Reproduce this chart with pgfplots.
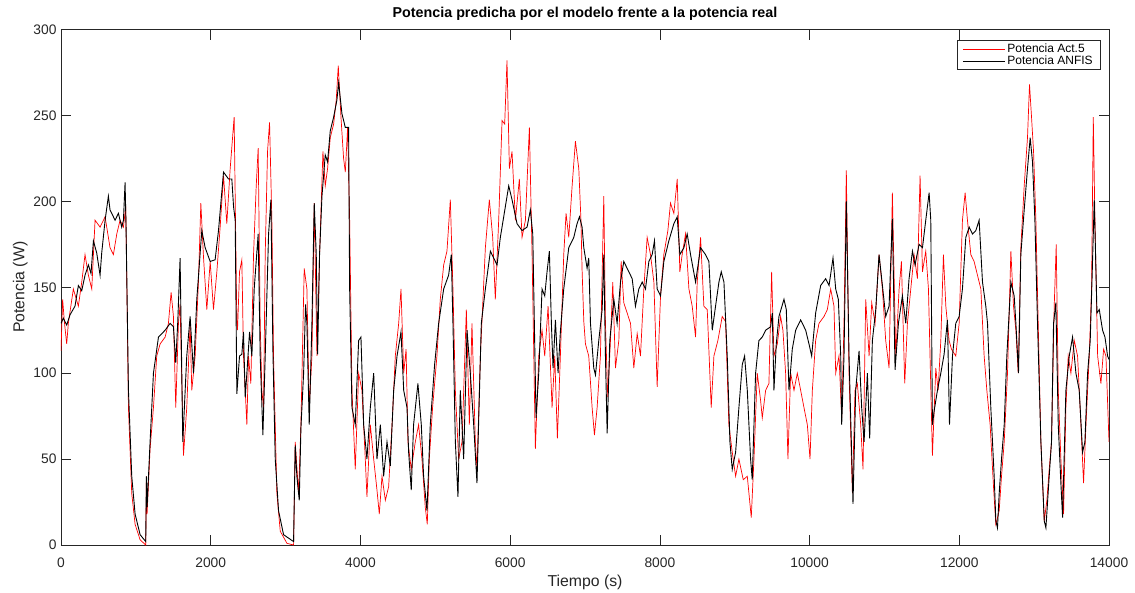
\documentclass[border=0pt]{standalone}
\usepackage{pgfplots}
\pgfplotsset{compat=1.18}
\usepackage{fontspec}
\setmainfont{Liberation Sans}
\definecolor{axgray}{RGB}{38,38,38}
\begin{document}
\begin{tikzpicture}
\begin{axis}[name=ax, scale only axis, width=1048pt, height=515.5pt,
  xmin=0, xmax=14000, ymin=0, ymax=300,
  xtick={0,2000,...,14000}, ytick={0,50,...,300},
  tick align=inside, major tick length=10pt,
  scaled x ticks=false,
  /pgf/number format/.cd, set thousands separator={}, assume math mode=true, /pgfplots/.cd,
  axis line style={axgray, line width=0.6pt},
  every tick/.style={axgray, line width=0.6pt},
  tick label style={font=\fontsize{13.8}{16}\selectfont, text=axgray},
  xticklabel style={yshift=-9pt},
  yticklabel style={xshift=-1pt},
  title={\bfseries Potencia predicha por el modelo frente a la potencia real},
  title style={font=\fontsize{14.3}{16}\selectfont, at={(0.5,1)}, anchor=base, yshift=5.5pt},
  xlabel={Tiempo (s)}, ylabel={Potencia (W)},
  label style={font=\fontsize{15.8}{18}\selectfont, text=axgray},
  xlabel style={yshift=-1pt},
  ylabel style={yshift=-1pt},
  legend style={at={(1,1)}, anchor=north east, xshift=-9pt, yshift=-11pt,
    font=\fontsize{12}{14}\selectfont, draw=axgray, line width=0.5pt,
    row sep=-2.5pt, inner xsep=5pt, inner ysep=1.5pt},
  legend cell align=left,
  legend image code/.code={\draw[#1] (-2pt,0pt) -- (40pt,0pt);},
]
\addplot[red, line width=0.7pt] coordinates {
(0,113)(22,143)(45,130)(76,117)(98,129)(165,149)(232,139)(277,153)(321,169)(366,157)(411,149)(455,189)(522,185)(589,191)(655,173)(700,169)(745,181)(789,189)(834,185)(865,197)(880,150)(901,80)(945,30)(990,12)(1057,3)(1132,0)(1141,40)(1150,18)(1190,56)(1235,80)(1279,110)(1324,117)(1391,121)(1435,129)(1471,147)(1502,133)(1533,80)(1569,129)(1591,140)(1636,52)(1680,80)(1725,129)(1747,90)(1792,110)(1836,153)(1868,199)(1903,168)(1948,137)(1993,165)(2037,137)(2082,159)(2126,185)(2171,215)(2215,187)(2260,219)(2313,249)
(2349,129)(2358,125)(2385,159)(2416,166)(2438,110)(2461,90)(2483,70)(2505,110)(2536,94)(2572,169)(2608,209)(2634,231)(2661,129)(2683,90)(2706,80)(2728,169)(2759,229)(2786,246)(2817,189)(2839,110)(2884,30)(2929,8)(3018,1)(3107,0)(3129,60)(3174,30)(3205,70)(3249,161)(3285,149)(3316,80)(3352,110)(3383,199)(3419,110)(3454,169)(3499,229)(3530,209)(3561,219)(3597,237)(3642,245)(3677,259)(3704,279)(3740,249)(3775,225)(3798,217)(3829,243)(3856,189)(3887,90)(3931,44)(3976,100)(4020,90)(4065,50)(4087,28)(4132,70)(4177,50)(4221,32)(4252,18)(4288,40)(4333,26)(4377,34)(4422,70)(4466,110)(4511,129)(4542,149)(4578,100)(4610,114)
(4635,60)(4679,44)(4733,60)(4777,70)(4822,50)(4866,22)(4893,12)(4920,50)(4964,80)(5022,110)(5067,143)(5112,163)(5156,171)(5201,201)(5236,149)(5268,90)(5312,50)(5357,60)(5415,137)(5455,70)(5490,129)(5535,60)(5557,44)(5602,110)(5669,173)(5722,201)(5767,179)(5802,143)(5847,189)(5892,247)(5927,245)(5958,282)(5990,219)(6025,229)(6070,189)(6123,213)(6159,179)(6204,189)(6257,243)(6293,169)(6337,56)(6382,110)(6426,125)(6462,110)(6507,139)(6560,80)(6596,110)(6631,62)(6671,110)(6716,169)(6747,193)(6783,179)(6828,209)(6872,235)(6917,219)(6945,190)(6961,160)(6984,130)(7006,117)
(7050,110)(7095,80)(7126,64)(7162,80)(7206,110)(7251,203)(7273,129)(7304,86)(7340,119)(7371,153)(7407,103)(7452,119)(7483,165)(7518,141)(7563,135)(7608,129)(7652,103)(7697,123)(7741,110)(7786,149)(7830,179)(7875,169)(7920,153)(7964,92)(8009,145)(8053,169)(8107,183)(8142,199)(8187,193)(8232,213)(8267,159)(8298,169)(8343,181)(8388,149)(8432,139)(8477,121)(8499,153)(8544,179)(8588,139)(8633,137)(8686,80)(8722,110)(8775,119)(8833,133)(8878,130)(8922,70)(8967,54)(9012,40)(9056,50)(9114,38)(9168,40)(9221,16)(9257,50)(9301,100)(9346,84)
(9368,74)(9413,90)(9457,94)(9493,159)(9524,110)(9569,117)(9613,133)(9644,125)(9680,100)(9711,50)(9747,100)(9792,90)(9836,100)(9881,90)(9925,80)(9970,70)(10006,50)(10037,90)(10081,119)(10126,129)(10193,133)(10237,137)(10282,149)(10326,139)(10349,100)(10393,110)(10429,74)(10460,129)(10491,218)(10527,100)(10572,30)(10607,90)(10638,94)(10683,70)(10714,44)(10750,143)(10795,110)(10830,141)(10875,129)(10928,169)(10973,149)(11017,119)(11062,103)(11106,205)(11151,110)(11196,149)(11227,165)(11271,94)(11307,129)(11352,149)(11396,169)(11441,155)(11476,215)(11508,159)(11552,171)(11588,149)(11641,52)(11686,103)
(11717,90)(11753,119)(11788,169)(11820,139)(11864,119)(11895,114)(11953,110)(11998,129)(12042,189)(12078,205)(12109,189)(12154,169)(12198,165)(12243,157)(12288,149)(12332,110)(12368,90)(12412,70)(12457,34)(12488,12)(12533,20)(12564,40)(12600,60)(12644,100)(12689,171)(12724,139)(12756,125)(12787,100)(12822,173)(12867,209)(12911,237)(12938,268)(12965,249)(12992,229)(13023,189)(13054,129)(13090,60)(13135,14)(13170,26)(13201,44)(13232,60)(13268,139)(13295,175)(13322,90)(13357,50)(13393,18)(13424,80)(13455,110)(13491,100)(13536,119)(13580,110)(13625,70)(13660,36)(13692,70)(13736,110)(13767,149)(13790,249)(13812,189)(13848,110)(13892,94)(13928,114)(13959,110)(14000,60)
};
\addlegendentry{Potencia Act.5}
\addplot[black, line width=0.9pt] coordinates {
(0,129)(31,132)(76,128)(121,134)(187,139)(232,151)(277,148)(321,157)(366,163)(401,158)(433,177)(477,170)(522,157)(544,170)(589,189)(633,203)(655,195)(678,193)(722,189)(767,193)(811,185)(834,189)(856,211)(869,185)(901,90)(945,40)(990,18)(1057,6)(1132,2)(1141,40)(1150,22)(1190,60)(1235,100)(1302,121)(1391,125)(1458,129)(1502,127)(1533,106)(1560,130)(1591,167)(1627,60)(1680,110)(1725,133)(1770,100)(1814,143)(1881,183)(1926,173)(1993,165)(2059,166)(2104,183)(2171,217)(2238,213)(2282,213)
(2305,197)(2327,189)(2349,88)(2385,110)(2416,111)(2438,124)(2461,86)(2483,100)(2519,124)(2550,110)(2581,149)(2634,181)(2661,110)(2697,64)(2728,110)(2773,181)(2804,201)(2831,113)(2862,50)(2906,20)(2973,6)(3107,2)(3129,58)(3151,40)(3183,26)(3205,68)(3241,100)(3267,140)(3285,129)(3316,70)(3352,129)(3383,199)(3410,169)(3428,111)(3454,169)(3486,203)(3530,227)(3561,223)(3597,241)(3642,249)(3686,259)(3709,269)(3753,251)(3798,243)(3842,243)(3856,149)(3887,80)(3931,70)(3976,119)(4007,121)(4043,70)(4087,50)(4132,80)(4177,100)(4221,50)(4266,70)(4310,40)(4355,60)(4399,46)(4444,90)(4489,110)(4542,124)(4578,90)(4622,80)(4644,54)
(4679,32)(4710,70)(4768,94)(4813,70)(4844,40)(4889,20)(4933,70)(4991,105)(5045,129)(5112,149)(5178,157)(5214,169)(5236,129)(5268,60)(5303,28)(5334,90)(5379,50)(5424,125)(5468,100)(5513,70)(5557,36)(5615,129)(5669,149)(5736,171)(5780,167)(5825,163)(5869,179)(5914,191)(5981,209)(6025,201)(6092,187)(6159,183)(6226,185)(6270,195)(6302,181)(6346,74)(6382,100)(6426,149)(6462,145)(6493,159)(6524,171)(6551,129)(6573,103)(6605,131)(6640,100)(6671,124)(6716,149)(6783,173)(6850,179)(6894,187)(6926,191)(6961,185)
(6984,173)(7028,161)(7050,167)(7073,129)(7117,103)(7140,99)(7184,119)(7229,137)(7251,169)(7273,110)(7296,65)(7331,119)(7385,143)(7429,129)(7474,153)(7518,165)(7563,161)(7630,155)(7674,139)(7719,149)(7764,153)(7808,149)(7853,165)(7897,169)(7928,177)(7964,149)(8009,145)(8053,165)(8120,177)(8187,187)(8232,191)(8267,169)(8321,173)(8365,181)(8410,169)(8477,153)(8544,173)(8610,169)(8655,165)(8700,125)(8744,139)(8789,153)(8820,159)(8856,153)(8900,110)(8936,60)(8967,44)(9012,54)(9056,80)(9101,105)(9132,110)(9168,90)(9212,50)(9234,38)(9279,100)(9323,119)
(9368,121)(9413,125)(9480,127)(9502,135)(9524,90)(9555,117)(9591,133)(9658,143)(9689,137)(9725,90)(9769,114)(9814,125)(9881,131)(9948,125)(9992,117)(10028,110)(10081,135)(10148,151)(10215,155)(10260,151)(10313,167)(10349,149)(10384,143)(10416,110)(10429,70)(10460,110)(10491,200)(10527,110)(10580,24)(10616,90)(10661,113)(10696,80)(10728,60)(10772,100)(10803,62)(10839,119)(10884,137)(10928,169)(10973,151)(11017,133)(11062,139)(11106,190)(11142,102)(11187,129)(11240,145)(11285,129)(11329,155)(11374,171)(11409,163)(11463,175)(11508,173)(11552,189)(11597,205)(11619,189)(11641,70)
(11664,78)(11708,90)(11753,100)(11797,111)(11842,131)(11869,70)(11909,110)(11953,129)(11998,133)(12042,149)(12087,179)(12132,185)(12176,181)(12221,183)(12265,189)(12310,153)(12354,139)(12377,129)(12421,80)(12466,40)(12488,14)(12510,10)(12533,30)(12564,50)(12600,70)(12635,110)(12666,135)(12689,153)(12733,145)(12756,129)(12791,100)(12822,169)(12867,195)(12911,219)(12947,237)(12978,223)(13010,189)(13045,129)(13090,60)(13135,14)(13157,10)(13201,40)(13232,60)(13259,129)(13290,141)(13322,70)(13357,36)(13380,16)(13424,90)(13469,110)(13513,121)(13558,100)(13602,90)(13647,54)(13678,60)(13714,100)(13749,119)(13772,153)(13803,201)(13839,135)(13870,137)(13914,125)(13946,121)(13981,110)(14000,108)
};
\addlegendentry{Potencia ANFIS}
\end{axis}
\pgfresetboundingbox
\path ([shift={(-61pt,-47pt)}]ax.south west) rectangle ([shift={(26pt,29.5pt)}]ax.north east);
\end{tikzpicture}
\end{document}
